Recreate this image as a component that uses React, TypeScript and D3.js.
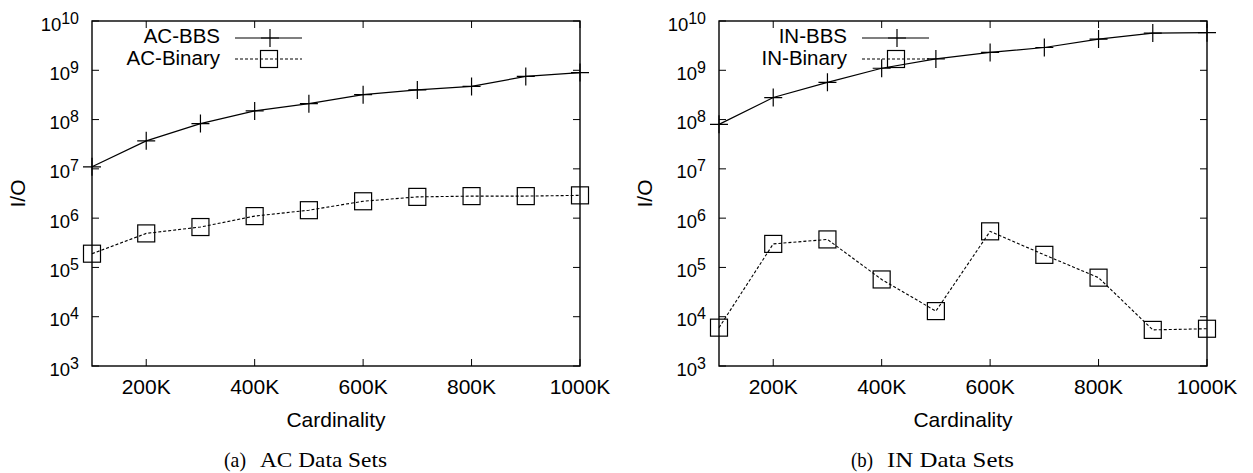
import React from 'react';
import * as d3 from 'd3';

// cardinality in thousands
const cardinality = [100, 200, 300, 400, 500, 600, 700, 800, 900, 1000];
const acBBS = [1.1e7, 3.7e7, 8.3e7, 1.5e8, 2.1e8, 3.2e8, 4.0e8, 4.7e8, 7.5e8, 9.0e8];
const acBinary = [1.9e5, 4.9e5, 6.6e5, 1.1e6, 1.45e6, 2.2e6, 2.7e6, 2.8e6, 2.8e6, 2.9e6];
const inBBS = [8e7, 2.8e8, 5.7e8, 1.1e9, 1.7e9, 2.3e9, 2.9e9, 4.3e9, 5.7e9, 5.8e9];
const inBinary = [6e3, 3e5, 3.7e5, 5.7e4, 1.3e4, 5.4e5, 1.8e5, 6.2e4, 5.4e3, 5.7e3];
const xTicks = [200, 400, 600, 800, 1000];
const yExponents = [3, 4, 5, 6, 7, 8, 9, 10];

const SANS = '"Liberation Sans", Arial, sans-serif';
const SERIF = '"Liberation Serif", "Times New Roman", serif';

// plot frame of the left panel, the right one is shifted
const left = 92;
const right = 580;
const top = 21;
const bottom = 366;
const tick = 7;

const x = d3.scaleLinear().domain([100, 1000]).range([left, right]);
const y = d3.scaleLog().domain([1e3, 1e10]).range([bottom, top]);

const Plus = ({ cx, cy }: { cx: number; cy: number }) => (
  <path d={`M${cx - 9},${cy}H${cx + 9}M${cx},${cy - 9}V${cy + 9}`} stroke="#000" strokeWidth={1.2} fill="none" />
);

const Square = ({ cx, cy }: { cx: number; cy: number }) => (
  <rect x={cx - 8.5} y={cy - 8.5} width={17} height={17} stroke="#000" strokeWidth={1.2} fill="none" />
);

const Panel = ({ dx, bbs, binary, names, caption }: any) => {
  const line = d3
    .line<number>()
    .x((_, i) => x(cardinality[i]))
    .y((d) => y(d));

  return (
    <g transform={`translate(${dx},0)`}>
      {/* frame */}
      <rect x={left} y={top} width={right - left} height={bottom - top} fill="none" stroke="#000" strokeWidth={1.4} />

      {/* x ticks, mirrored on top */}
      {xTicks.map((t) => (
        <g key={t}>
          <line x1={x(t)} x2={x(t)} y1={bottom} y2={bottom - tick} stroke="#000" />
          <line x1={x(t)} x2={x(t)} y1={top} y2={top + tick} stroke="#000" />
          <text x={x(t)} y={394} textAnchor="middle" fontFamily={SANS} fontSize={21}>
            {t}K
          </text>
        </g>
      ))}

      {/* y ticks, mirrored on the right */}
      {yExponents.map((e) => (
        <g key={e}>
          <line x1={left} x2={left + tick} y1={y(10 ** e)} y2={y(10 ** e)} stroke="#000" />
          <line x1={right} x2={right - tick} y1={y(10 ** e)} y2={y(10 ** e)} stroke="#000" />
          <text x={79} y={y(10 ** e) + 9.5} textAnchor="end" fontFamily={SANS} fontSize={18.5}>
            10
            <tspan fontSize={16} dy={-7}>
              {e}
            </tspan>
          </text>
        </g>
      ))}

      <text
        transform={`translate(25,${(top + bottom) / 2}) rotate(-90)`}
        textAnchor="middle"
        fontFamily={SANS}
        fontSize={21}
      >
        I/O
      </text>
      <text x={(left + right) / 2} y={427} textAnchor="middle" fontFamily={SANS} fontSize={21}>
        Cardinality
      </text>

      {/* series */}
      <path d={line(bbs) || ''} fill="none" stroke="#000" strokeWidth={1.2} />
      <path d={line(binary) || ''} fill="none" stroke="#000" strokeWidth={1.1} strokeDasharray="3,2" />
      {bbs.map((v: number, i: number) => (
        <Plus key={'p' + i} cx={x(cardinality[i])} cy={y(v)} />
      ))}
      {binary.map((v: number, i: number) => (
        <Square key={'s' + i} cx={x(cardinality[i])} cy={y(v)} />
      ))}

      {/* legend */}
      <text x={220} y={43} textAnchor="end" fontFamily={SANS} fontSize={20.5}>
        {names[0]}
      </text>
      <line x1={235} x2={302} y1={38} y2={38} stroke="#000" strokeWidth={1.2} />
      <Plus cx={270} cy={38} />
      <text x={220} y={65} textAnchor="end" fontFamily={SANS} fontSize={20.5}>
        {names[1]}
      </text>
      <line x1={235} x2={302} y1={59} y2={59} stroke="#000" strokeWidth={1.1} strokeDasharray="3,2" />
      <Square cx={269} cy={59} />

      {/* caption */}
      <text x={224} y={467} fontFamily={SERIF} fontSize={21} textLength={22} lengthAdjust="spacingAndGlyphs">
        {caption[0]}
      </text>
      <text x={260} y={467} fontFamily={SERIF} fontSize={21} textLength={127} lengthAdjust="spacingAndGlyphs">
        {caption[1]}
      </text>
    </g>
  );
};

const App = () => (
  <svg width={1253} height={473} style={{ position: 'absolute', left: 0, top: 0, background: '#fff' }}>
    <Panel dx={0} bbs={acBBS} binary={acBinary} names={['AC-BBS', 'AC-Binary']} caption={['(a)', 'AC Data Sets']} />
    <Panel dx={627} bbs={inBBS} binary={inBinary} names={['IN-BBS', 'IN-Binary']} caption={['(b)', 'IN Data Sets']} />
  </svg>
);

export default App;
